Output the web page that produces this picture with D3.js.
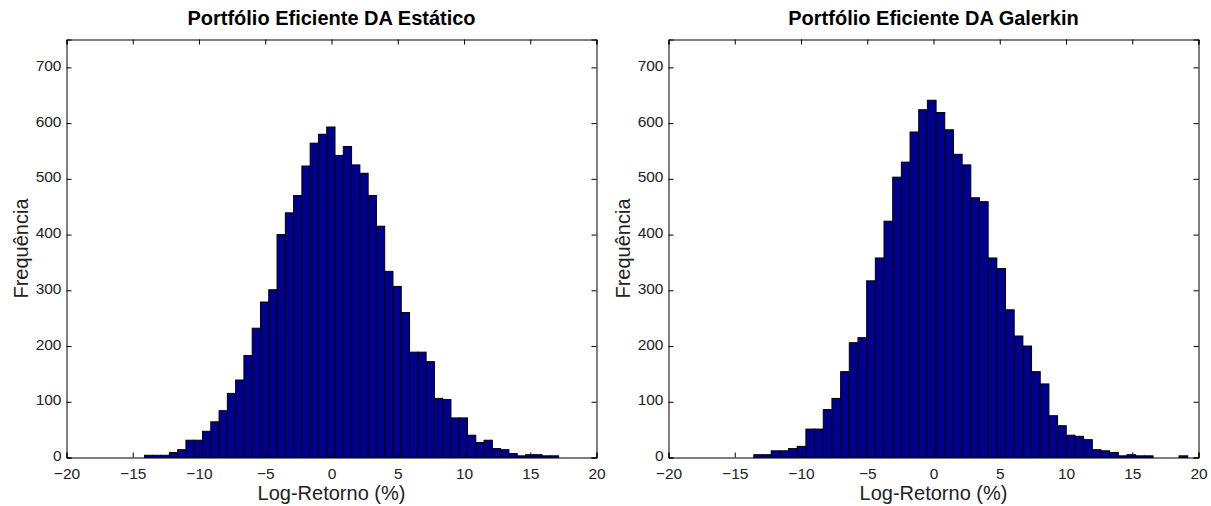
<!DOCTYPE html>
<html>
<head>
<meta charset="utf-8">
<script src="https://cdn.jsdelivr.net/npm/d3@7"></script>
<style>
  html, body { margin: 0; padding: 0; background: #fff; }
  svg { display: block; font-family: "Liberation Sans", Arial, sans-serif; }
</style>
</head>
<body>
<svg id="chart" width="1211" height="506"></svg>
<script>
// Histogram counts (50 equal-width bins per panel)
const countsEstatico = [
  4, 4, 4, 9, 14, 31, 31, 47, 64, 84,
  115, 139, 183, 232, 279, 301, 400, 439, 470, 523,
  564, 580, 593, 542, 558, 525, 510, 470, 415, 334,
  307, 260, 189, 189, 172, 106, 104, 71, 71, 40,
  27, 31, 16, 14, 7, 3, 5, 5, 3, 3
];
const countsGalerkin = [
  5, 5, 12, 12, 16, 20, 51, 51, 86, 106,
  154, 206, 215, 317, 358, 424, 503, 530, 584, 624,
  641, 619, 588, 544, 525, 466, 459, 358, 339, 265,
  218, 200, 154, 132, 75, 57, 40, 38, 32, 14,
  12, 9, 3, 5, 3, 3, 0, 0, 0, 3
];
// Bin layout in data units: left edge of the first bin and bin width
const binStartEstatico = -14.11, binWidthEstatico = 0.625;
const binStartGalerkin = -13.56, binWidthGalerkin = 0.655;

const titles = ["Portfólio Eficiente DA Estático", "Portfólio Eficiente DA Galerkin"];
const xLabel = "Log-Retorno (%)";
const yLabel = "Frequência";
const xTicks = [-20, -15, -10, -5, 0, 5, 10, 15, 20];
const yTicks = [0, 100, 200, 300, 400, 500, 600, 700];
const xDomain = [-20, 20];
const yDomain = [0, 750];

const panels = [
  { counts: countsEstatico, start: binStartEstatico, width: binWidthEstatico, title: titles[0], left: 66.5, right: 596.5 },
  { counts: countsGalerkin, start: binStartGalerkin, width: binWidthGalerkin, title: titles[1], left: 668.5, right: 1198.5 }
];

const plotTop = 39.5, plotBottom = 457.5;
const svg = d3.select("#chart");
const tickLen = 5;

panels.forEach(p => {
  const x = d3.scaleLinear().domain(xDomain).range([p.left, p.right]);
  const y = d3.scaleLinear().domain(yDomain).range([plotBottom, plotTop]);
  const g = svg.append("g");

  const bins = p.counts.map((c, i) => ({ x0: p.start + i * p.width, x1: p.start + (i + 1) * p.width, n: c }));

  // bars
  g.append("g").selectAll("rect").data(bins).join("rect")
    .attr("x", d => x(d.x0))
    .attr("y", d => y(d.n))
    .attr("width", d => x(d.x1) - x(d.x0))
    .attr("height", d => y(0) - y(d.n))
    .attr("fill", "#00008f")
    .attr("stroke", "#000")
    .attr("stroke-width", 1);

  // axes with inward ticks on all four sides
  const axB = d3.axisBottom(x).tickValues(xTicks).tickSize(-tickLen).tickPadding(10).tickFormat(d3.format("d"));
  const axT = d3.axisTop(x).tickValues(xTicks).tickSize(-tickLen).tickFormat("");
  const axL = d3.axisLeft(y).tickValues(yTicks).tickSize(-tickLen).tickPadding(5).tickFormat(d3.format("d"));
  const axR = d3.axisRight(y).tickValues(yTicks).tickSize(-tickLen).tickFormat("");

  const gB = g.append("g").attr("transform", `translate(0,${plotBottom})`).call(axB);
  const gT = g.append("g").attr("transform", `translate(0,${plotTop})`).call(axT);
  const gL = g.append("g").attr("transform", `translate(${p.left},0)`).call(axL);
  const gR = g.append("g").attr("transform", `translate(${p.right},0)`).call(axR);

  [gB, gT, gL, gR].forEach(a => {
    a.select(".domain").attr("stroke", "#000").attr("stroke-width", 1);
    a.selectAll(".tick line").attr("stroke", "#000");
    a.selectAll(".tick text").attr("fill", "#222").style("font-size", "15.5px").style("font-family", "Liberation Sans, Arial, sans-serif");
  });
  gL.selectAll(".tick text").attr("dy", "0.2em");

  // titles and labels
  g.append("text")
    .attr("x", (p.left + p.right) / 2)
    .attr("y", 25)
    .attr("text-anchor", "middle")
    .style("font-size", "20px")
    .style("font-weight", "bold")
    .attr("fill", "#000")
    .text(p.title);

  g.append("text")
    .attr("x", (p.left + p.right) / 2)
    .attr("y", 500)
    .attr("text-anchor", "middle")
    .style("font-size", "20px")
    .attr("fill", "#222")
    .text(xLabel);

  g.append("text")
    .attr("transform", `translate(${p.left - 39},${(plotTop + plotBottom) / 2}) rotate(-90)`)
    .attr("text-anchor", "middle")
    .style("font-size", "20px")
    .attr("fill", "#222")
    .text(yLabel);
});
</script>
</body>
</html>
